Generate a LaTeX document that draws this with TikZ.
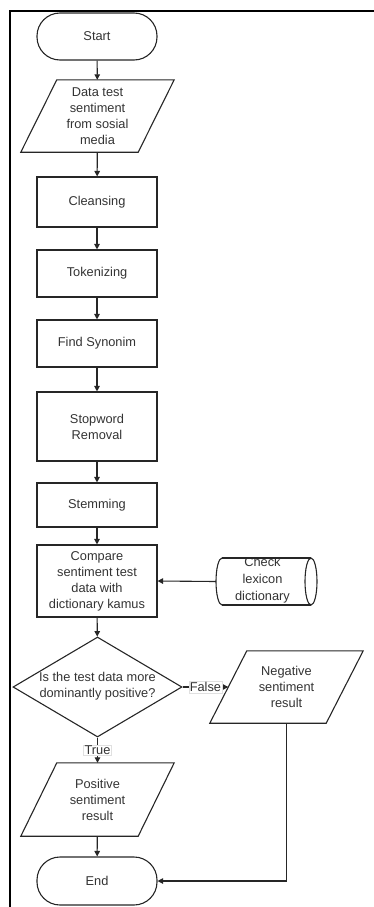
\documentclass[tikz,border=0pt]{standalone}
\usepackage{fontspec}
\setmainfont{Liberation Sans}
\usetikzlibrary{shapes.geometric,arrows.meta}
\tikzset{
  shapeline/.style={draw=black!85, line width=1.1pt},
  txt/.style={font=\fontsize{12.8}{16}\selectfont, text=black!80, align=center},
  terminal/.style={shapeline, txt, rectangle, rounded corners=23pt, minimum width=120pt, minimum height=47pt, inner sep=0pt},
  procbox/.style={shapeline, txt, rectangle, minimum width=120pt, inner sep=0pt},
  para/.style={txt, rectangle, minimum width=153pt, minimum height=72pt, inner sep=0pt},
  decision/.style={shapeline, diamond, minimum width=169pt, minimum height=100pt, inner sep=0pt},
  flow/.style={draw=black!85, line width=1.1pt, -{Triangle[length=5.5pt,width=5.5pt]}},
  lbl/.style={txt, fill=white, draw=black!12, line width=0.4pt, inner sep=1pt}
}
\newcommand{\drawpara}[2]{\draw[shapeline] ([xshift=#2]#1.north west) -- (#1.north east) -- ([xshift=-#2]#1.south east) -- (#1.south west) -- cycle;}
\begin{document}
\begin{tikzpicture}[x=1pt,y=-1pt]
\useasboundingbox (0,0) rectangle (374,907);
\draw[line width=2pt, black] (374,11) -- (10,11) -- (10,907);

\node[terminal] (start) at (97,36.5) {Start};
\node[para] (data) at (97.5,116) {Data test\\sentiment\\from sosial\\media};
\drawpara{data}{36pt}
\node[procbox, minimum height=50pt] (clean) at (97,202) {Cleansing};
\node[procbox, minimum height=47pt] (token) at (97,273.5) {Tokenizing};
\node[procbox, minimum height=47pt] (syn) at (97,343.5) {Find Synonim};
\node[procbox, minimum height=69pt] (stop) at (97,426.5) {Stopword\\Removal};
\node[procbox, minimum height=44pt] (stem) at (97,505) {Stemming};
\node[procbox, minimum height=72pt] (comp) at (97,581) {Compare\\sentiment test\\data with\\dictionary kamus};

% lexicon store (horizontal cylinder)
\node[rectangle, minimum width=101pt, minimum height=47pt, inner sep=0pt] (check) at (266.5,581.5) {};
\begin{scope}
  \clip (214,559) rectangle (320,605);
  \node[txt, font=\fontsize{12.8}{17}\selectfont] (checktxt) at (262.5,580) {Check\\lexicon\\dictionary};
\end{scope}
\draw[shapeline] (222,558) -- (311,558);
\draw[shapeline] (222,605) -- (311,605);
\draw[shapeline] (222,558) arc[start angle=90, end angle=270, x radius=6, y radius=-23.5];
\draw[shapeline] (311,581.5) ellipse[x radius=6, y radius=23.5];

\node[decision] (dec) at (97.5,687) {};
\node[txt] (dectxt) at (97.5,686) {Is the test data more\\dominantly positive?};
\node[para] (neg) at (286.5,687) {Negative\\sentiment\\result};
\drawpara{neg}{37pt}
\node[para, minimum height=73pt] (pos) at (97.5,799.5) {Positive\\sentiment\\result};
\drawpara{pos}{36pt}
\node[terminal, minimum height=48pt] (end) at (97,881) {End};

\coordinate (negin) at ([xshift=18.5pt]neg.west);

\draw[flow] (start) -- (data);
\draw[flow] (data) -- (clean);
\draw[flow] (clean) -- (token);
\draw[flow] (token) -- (syn);
\draw[flow] (syn) -- (stop);
\draw[flow] (stop) -- (stem);
\draw[flow] (stem) -- (comp);
\draw[flow] (check.west) -- (comp.east);
\draw[flow] (comp) -- (dec);
\draw[flow] (dec.east) -- node[lbl] {False} (negin);
\draw[flow] (dec.south) -- node[lbl] {True} (pos.north);
\draw[flow] (pos) -- (end);
\draw[flow] (neg.south) |- (end.east);
\end{tikzpicture}
\end{document}
